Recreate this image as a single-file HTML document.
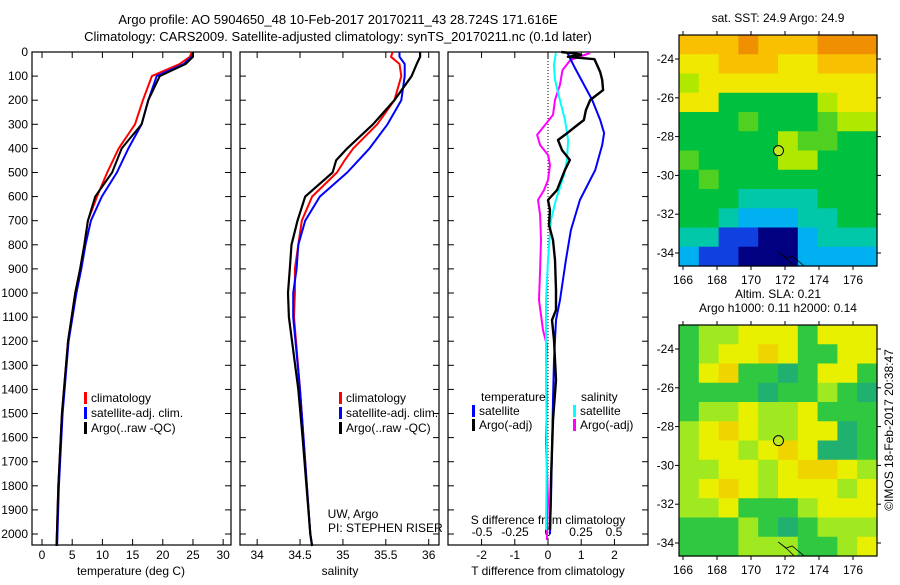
<!DOCTYPE html>
<html><head><meta charset="utf-8"><style>
body{margin:0;background:#fff;width:900px;height:580px;overflow:hidden}
svg text{font-family:"Liberation Sans",sans-serif;font-size:12px;fill:#000}
</style></head><body>
<svg id="fig" width="900" height="580" xmlns="http://www.w3.org/2000/svg">
<text x="338" y="24" text-anchor="middle" style="font-size:13px">Argo profile: AO 5904650_48 10-Feb-2017 20170211_43 28.724S 171.616E</text>
<text x="338" y="41" text-anchor="middle" style="font-size:13px">Climatology: CARS2009. Satellite-adjusted climatology: synTS_20170211.nc (0.1d later)</text>
<g id="g"></g>
<text transform="translate(893,430) rotate(-90)" text-anchor="middle">©IMOS 18-Feb-2017 20:38:47</text>
</svg>
<script>
// ---- data ----
const tDepth=[0,20,50,100,200,300,400,500,600,700,800,900,1000,1200,1500,1800,2050];
const tClim=[24.8,24.5,22.8,18.2,16.7,15.4,12.7,10.8,9.1,7.6,7.0,6.3,5.5,4.3,3.3,2.7,2.4];
const tSat=[25.0,24.8,23.5,19.0,17.6,16.5,14.3,12.4,9.9,8.1,7.2,6.5,5.7,4.4,3.4,2.8,2.5];
const tArgo=[25.0,25.0,23.8,19.5,17.6,16.5,13.2,11.6,8.8,7.6,7.0,6.3,5.5,4.3,3.3,2.7,2.4];
const sDepth=[0,20,50,100,200,300,400,450,500,600,700,800,900,1000,1100,1400,1600,2000,2050];
const sClim=[35.58,35.56,35.66,35.68,35.6,35.4,35.12,35.02,34.93,34.64,34.52,34.48,34.44,34.44,34.43,34.5,34.54,34.62,34.64];
const sSat=[35.66,35.66,35.72,35.72,35.68,35.52,35.31,35.18,35.05,34.73,34.56,34.48,34.46,34.42,34.42,34.5,34.54,34.62,34.64];
const sArgo=[35.9,35.9,35.86,35.8,35.6,35.35,35.05,34.92,34.88,34.56,34.47,34.4,34.38,34.36,34.37,34.48,34.53,34.62,34.64];
const dTsatDepth=[0,66,199,282,336,386,490,614,739,863,1029,1112,1278,1444,1859,2000];
const dTsat=[0.57,0.81,1.33,1.57,1.69,1.63,1.42,0.96,0.69,0.54,0.36,0.24,0.18,0.15,0.09,0.06];
const dTargoDepth=[0,8,12,20,30,83,116,158,199,241,282,311,344,365,407,448,490,573,614,656,718,780,863,988,1071,1112,1195,1361,1527,1776,1983];
const dTargo=[0.4,0.9,1.0,0.6,1.4,1.57,1.63,1.66,1.27,1.14,1.08,0.81,0.51,0.30,0.42,0.66,0.51,0.27,0,0.06,0.03,0.15,0.21,0.24,0.24,0.12,0.18,0.24,0.15,0.09,0.06];
const dSargoDepth=[4,33,75,137,199,261,303,344,386,427,469,531,573,614,676,780,905,1029,1154,1216,1320,1444,1610,1859,2025];
const dSargo=[0.32,0.17,0.11,0.09,0.053,0.038,-0.023,-0.083,-0.06,0,0.015,0,-0.03,-0.076,-0.06,-0.053,-0.06,-0.068,-0.038,-0.008,-0.015,-0.008,-0.015,0,-0.008];
const dSsatDepth=[4,54,116,199,282,365,448,510,614,697,863,1029,1361,1651,1983];
const dSsat=[0.06,0.045,0.053,0.09,0.129,0.152,0.144,0.121,0.06,0.023,0,-0.015,-0.015,-0.008,-0.015];
const depthTicks=[0,100,200,300,400,500,600,700,800,900,1000,1100,1200,1300,1400,1500,1600,1700,1800,1900,2000];
const tTicks=[0,5,10,15,20,25,30];
const sTicks=[34,34.5,35,35.5,36];
const dtTicks=[-2,-1,0,1,2];
const dsTicks=[-0.5,-0.25,0,0.25,0.5];
const lonTicks=[166,168,170,172,174,176];
const latTicks=[-24,-26,-28,-30,-32,-34];
const sstGrid=["8889888999","7788877888","6777777777","7744444677","4445444566","4444465544","5444466444","4544444444","4443333444","4432223344","3311002333","2110002222"];
const slaGrid=["gllyyygyyy","glyyoyggyy","gyoggdgyyg","ggggdgglgd","gllyllyggg","lyoyllyydg","lyylyoyddg","llyylyooyl","lyoylyyyly","llyggglyyy","ggglgdglll","ggglllggly"];
const argoLon=171.616, argoLat=-28.724;
// ---- drawing ----
const NS="http://www.w3.org/2000/svg";
const G=document.getElementById('g');
function el(t,a,p){const e=document.createElementNS(NS,t);for(const k in a)e.setAttribute(k,a[k]);(p||G).appendChild(e);return e;}
const plotTop=52,plotBot=545;
const yD=d=>plotTop+d*0.241;
const panels=[{x0:32,x1:231,v0:-1.66,v1:31.3},{x0:240,x1:439,v0:33.8,v1:36.12},{x0:448,x1:648,v0:-3.01,v1:3.01}];
function sx(p,v){return p.x0+(v-p.v0)/(p.v1-p.v0)*(p.x1-p.x0);}
panels.forEach((p,i)=>{
  const r=el('rect',{x:p.x0,y:plotTop,width:p.x1-p.x0,height:plotBot-plotTop,fill:'none',stroke:'#000','stroke-width':1.2});
  
  
  depthTicks.forEach(d=>{
    el('line',{x1:p.x0,x2:p.x0+6,y1:yD(d),y2:yD(d),stroke:'#000'});
    el('line',{x1:p.x1-6,x2:p.x1,y1:yD(d),y2:yD(d),stroke:'#000'});
  });
});
depthTicks.forEach(d=>{const t=el('text',{x:28,y:yD(d)+4,'text-anchor':'end'});t.textContent=d;
  
  });
function xticks(p,ticks,y,inside,fmt){ticks.forEach(v=>{const x=sx(p,v);
  if(!inside){el('line',{x1:x,x2:x,y1:plotBot,y2:plotBot-6,stroke:'#000'});el('line',{x1:x,x2:x,y1:plotTop,y2:plotTop+6,stroke:'#000'});}
  const t=el('text',{x:x,y:y,'text-anchor':'middle'});t.textContent=fmt?fmt(v):v;
  
  });}
xticks(panels[0],tTicks,559);
xticks(panels[1],sTicks,559);
xticks(panels[2],dtTicks,559);
const pS={x0:448,x1:648,v0:-0.758,v1:0.758};
xticks(pS,dsTicks,536,true,v=>String(v));
function lab(x,y,s,n){const t=el('text',{x:x,y:y,'text-anchor':'middle'});t.textContent=s;}
lab(131,575,'temperature (deg C)','x-axis-title-temperature');
lab(340,575,'salinity','x-axis-title-salinity');
lab(548,575,'T difference from climatology','x-axis-title-t-diff');
lab(548,524,'S difference from climatology','x-axis-title-s-diff');
function line(p,vals,deps,col,name,w){const pts=vals.map((v,i)=>sx(p,v).toFixed(1)+','+yD(deps[i]).toFixed(1)).join(' ');
  const l=el('polyline',{points:pts,fill:'none',stroke:col,'stroke-width':w||2,'stroke-linejoin':'round'});
  
  }
el('line',{x1:sx(panels[2],0),x2:sx(panels[2],0),y1:plotTop,y2:plotBot,stroke:'#000','stroke-dasharray':'1,2'});
line(panels[0],tClim,tDepth,'#f00','temp-climatology-line');
line(panels[0],tSat,tDepth,'#00f','temp-satellite-line');
line(panels[0],tArgo,tDepth,'#000','temp-argo-line');
line(panels[1],sClim,sDepth,'#f00','sal-climatology-line');
line(panels[1],sSat,sDepth,'#00f','sal-satellite-line');
line(panels[1],sArgo,sDepth,'#000','sal-argo-line',2.2);
line(pS,dSargo,dSargoDepth,'#f0f','sdiff-argo-line');
line(pS,dSsat,dSsatDepth,'#0ff','sdiff-satellite-line');
line(panels[2],dTsat,dTsatDepth,'#00f','tdiff-satellite-line');
line(panels[2],dTargo,dTargoDepth,'#000','tdiff-argo-line',2.4);
function leg(x,y,col,s,n){el('rect',{x:x,y:y-10,width:3,height:12,fill:col});const t=el('text',{x:x+7,y:y});t.textContent=s;}
leg(84,402,'#f00','climatology','legend-climatology');
leg(84,417,'#00f','satellite-adj. clim.','legend-satellite-adj');
leg(84,432,'#000','Argo(..raw -QC)','legend-argo');
leg(339,402,'#f00','climatology','legend2-climatology');
leg(339,417,'#00f','satellite-adj. clim.','legend2-satellite-adj');
leg(339,432,'#000','Argo(..raw -QC)','legend2-argo');
lab(353,518,'UW, Argo','pi-institution');
{const t=el('text',{x:328,y:532});t.textContent='PI: STEPHEN RISER';}
{const t=el('text',{x:481,y:401});t.textContent='temperature';}
{const t=el('text',{x:581,y:401});t.textContent='salinity';}
leg(472,415,'#00f','satellite','legend-t-satellite');
leg(472,429,'#000','Argo(-adj)','legend-t-argo');
leg(573,415,'#0ff','satellite','legend-s-satellite');
leg(573,429,'#f0f','Argo(-adj)','legend-s-argo');
// maps
const sstCols=['#000080','#1040e0','#00b0f0','#00c8a8','#00c040','#50d020','#b0e800','#f0e800','#f8c000','#f09000'];
const slaCols={d:'#20b070',g:'#30c840',l:'#a0e820',y:'#e8f000',o:'#f0d400'};
function map(my0,grid,colf,name,titles){
  const x0=679,x1=877,my1=my0+231;
  const lonX=v=>683+(v-166)*17, latY=v=>my0+24+(-24-v)*19.4;
  const rows=grid.length, cols=grid[0].length, cw=(x1-x0)/cols, ch=(my1-my0)/rows;
  grid.forEach((r,i)=>[...r].forEach((c,j)=>{const e=el('rect',{x:x0+j*cw,y:my0+i*ch,width:cw+0.6,height:ch+0.6,fill:colf(c)});
    
    }));
  const f=el('rect',{x:x0,y:my0,width:x1-x0,height:my1-my0,fill:'none',stroke:'#000','stroke-width':1.2});
  
  
  lonTicks.forEach(v=>{const x=lonX(v);el('line',{x1:x,x2:x,y1:my0-4,y2:my0,stroke:'#000'});el('line',{x1:x,x2:x,y1:my1,y2:my1+4,stroke:'#000'});
    const t=el('text',{x:x,y:my1+18,'text-anchor':'middle'});t.textContent=v;});
  latTicks.forEach(v=>{const y=latY(v);el('line',{x1:x0-4,x2:x0,y1:y,y2:y,stroke:'#000'});el('line',{x1:x1,x2:x1+4,y1:y,y2:y,stroke:'#000'});
    const t=el('text',{x:x0-5,y:y+4,'text-anchor':'end'});t.textContent=v;});
  const c=el('circle',{cx:lonX(argoLon),cy:latY(argoLat),r:5,fill:'#c0e820',stroke:'#000'});
  
  
  el('path',{d:`M${lonX(171.6)} ${my1-14} l8 6 l6 -2 l12 10 l-10 0 l-6 -6 z`,fill:'none',stroke:'#000','stroke-width':0.8});
  titles.forEach((s,i)=>lab(778,my0-13-(titles.length-1-i)*14,s,name+'-title'));
}
map(35,sstGrid,c=>sstCols[+c],'sst-map',['sat. SST: 24.9 Argo: 24.9']);
map(325,slaGrid,c=>slaCols[c],'sla-map',['Altim. SLA: 0.21','Argo h1000: 0.11 h2000: 0.14']);
</script>
</body></html>
